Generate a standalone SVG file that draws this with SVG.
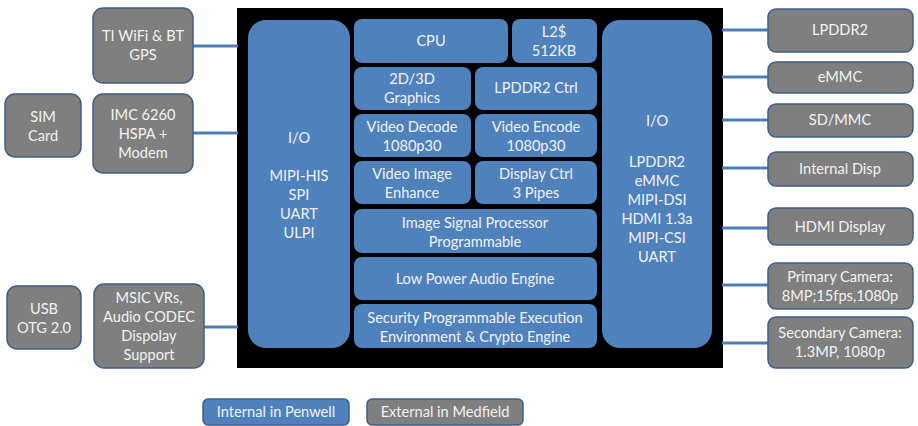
<svg xmlns="http://www.w3.org/2000/svg" width="918" height="426" viewBox="0 0 918 426">
<style>
.ext{fill:#7f7f7f;stroke:#3b5f8a;stroke-width:1.5}
.blk{fill:#4f81bd}
.leg{fill:#4f81bd;stroke:#3b5f8a;stroke-width:1.5}
text{font-family:Lato,"Open Sans","Liberation Sans",sans-serif;font-size:14.6px;fill:#f2f2f2;text-anchor:middle}
.con line{stroke:#4a7ebb;stroke-width:3}
</style>
<rect width="918" height="426" fill="#ffffff"/>
<g id="chip">
<rect x="237" y="8" width="486" height="360" fill="#000000"/>
</g>
<g class="con" id="connectors">
<line x1="193" y1="46" x2="238" y2="46"/>
<line x1="193" y1="133" x2="238" y2="133"/>
<line x1="204" y1="327" x2="238" y2="327"/>
<line x1="722" y1="30" x2="768" y2="30"/>
<line x1="722" y1="77" x2="768" y2="77"/>
<line x1="722" y1="120" x2="768" y2="120"/>
<line x1="722" y1="168" x2="768" y2="168"/>
<line x1="722" y1="228" x2="768" y2="228"/>
<line x1="722" y1="285" x2="768" y2="285"/>
<line x1="722" y1="343" x2="768" y2="343"/>
</g>
<g id="io-left"><rect class="blk" x="248" y="20" width="102" height="328" rx="18"/>
<text x="299" y="143">I/O</text><text x="299" y="181">MIPI-HIS</text><text x="299" y="200">SPI</text><text x="299" y="219">UART</text><text x="299" y="238">ULPI</text></g>
<g id="cpu"><rect class="blk" x="354" y="19" width="154" height="44" rx="8"/><text x="431" y="46">CPU</text></g>
<g id="l2"><rect class="blk" x="512" y="19" width="85" height="44" rx="8"/><text x="554" y="37">L2$</text><text x="554" y="56">512KB</text></g>
<g id="gfx"><rect class="blk" x="354" y="67" width="117" height="43" rx="8"/><text x="412" y="84">2D/3D</text><text x="412" y="103">Graphics</text></g>
<g id="lpddr2ctrl"><rect class="blk" x="475" y="67" width="122" height="43" rx="8"/><text x="536" y="93">LPDDR2 Ctrl</text></g>
<g id="vdec"><rect class="blk" x="354" y="114" width="117" height="43" rx="8"/><text x="412" y="132">Video Decode</text><text x="412" y="151">1080p30</text></g>
<g id="venc"><rect class="blk" x="475" y="114" width="122" height="43" rx="8"/><text x="536" y="132">Video Encode</text><text x="536" y="151">1080p30</text></g>
<g id="vie"><rect class="blk" x="354" y="161" width="117" height="43" rx="8"/><text x="412" y="179">Video Image</text><text x="412" y="198">Enhance</text></g>
<g id="disp"><rect class="blk" x="475" y="161" width="122" height="43" rx="8"/><text x="536" y="179">Display Ctrl</text><text x="536" y="198">3 Pipes</text></g>
<g id="isp"><rect class="blk" x="354" y="209" width="243" height="44" rx="8"/><text x="475" y="228">Image Signal Processor</text><text x="475" y="247">Programmable</text></g>
<g id="audio"><rect class="blk" x="354" y="257" width="243" height="43" rx="8"/><text x="475" y="284">Low Power Audio Engine</text></g>
<g id="security"><rect class="blk" x="354" y="304" width="243" height="44" rx="8"/><text x="475" y="323">Security Programmable Execution</text><text x="475" y="342">Environment &amp; Crypto Engine</text></g>
<g id="io-right"><rect class="blk" x="602" y="20" width="110" height="328" rx="18"/>
<text x="657" y="126">I/O</text><text x="657" y="167">LPDDR2</text><text x="657" y="186">eMMC</text><text x="657" y="205">MIPI-DSI</text><text x="657" y="224">HDMI 1.3a</text><text x="657" y="243">MIPI-CSI</text><text x="657" y="262">UART</text></g>
<g id="wifi"><rect class="ext" x="93" y="8" width="100" height="75" rx="10"/><text x="143" y="41">TI WiFi &amp; BT</text><text x="143" y="60">GPS</text></g>
<g id="sim"><rect class="ext" x="5" y="94" width="76" height="63" rx="10"/><text x="43" y="122">SIM</text><text x="43" y="141">Card</text></g>
<g id="modem"><rect class="ext" x="93" y="94" width="100" height="79" rx="10"/><text x="143" y="120">IMC 6260</text><text x="143" y="139">HSPA +</text><text x="143" y="158">Modem</text></g>
<g id="usb"><rect class="ext" x="7" y="286" width="74" height="63" rx="10"/><text x="44" y="314">USB</text><text x="44" y="333">OTG 2.0</text></g>
<g id="msic"><rect class="ext" x="94" y="284" width="110" height="84" rx="10"/><text x="149" y="303">MSIC VRs,</text><text x="149" y="322">Audio CODEC</text><text x="149" y="341">Dispolay</text><text x="149" y="360">Support</text></g>
<g id="lpddr2"><rect class="ext" x="768" y="9" width="145" height="43" rx="8"/><text x="840" y="35">LPDDR2</text></g>
<g id="emmc"><rect class="ext" x="768" y="62" width="145" height="31" rx="8"/><text x="840" y="82">eMMC</text></g>
<g id="sdmmc"><rect class="ext" x="768" y="104" width="145" height="33" rx="8"/><text x="840" y="125">SD/MMC</text></g>
<g id="intdisp"><rect class="ext" x="768" y="152" width="145" height="34" rx="8"/><text x="840" y="174">Internal Disp</text></g>
<g id="hdmi"><rect class="ext" x="768" y="208" width="145" height="37" rx="8"/><text x="840" y="232">HDMI Display</text></g>
<g id="cam1"><rect class="ext" x="768" y="263" width="145" height="46" rx="8"/><text x="840" y="282">Primary Camera:</text><text x="840" y="301">8MP;15fps,1080p</text></g>
<g id="cam2"><rect class="ext" x="768" y="317" width="145" height="51" rx="8"/><text x="840" y="338">Secondary Camera:</text><text x="840" y="357">1.3MP, 1080p</text></g>
<g id="legend-internal"><rect class="leg" x="203" y="399" width="146" height="26" rx="5"/><text x="276" y="417">Internal in Penwell</text></g>
<g id="legend-external"><rect class="ext" x="367" y="399" width="156" height="26" rx="5"/><text x="445" y="417">External in Medfield</text></g>
</svg>
